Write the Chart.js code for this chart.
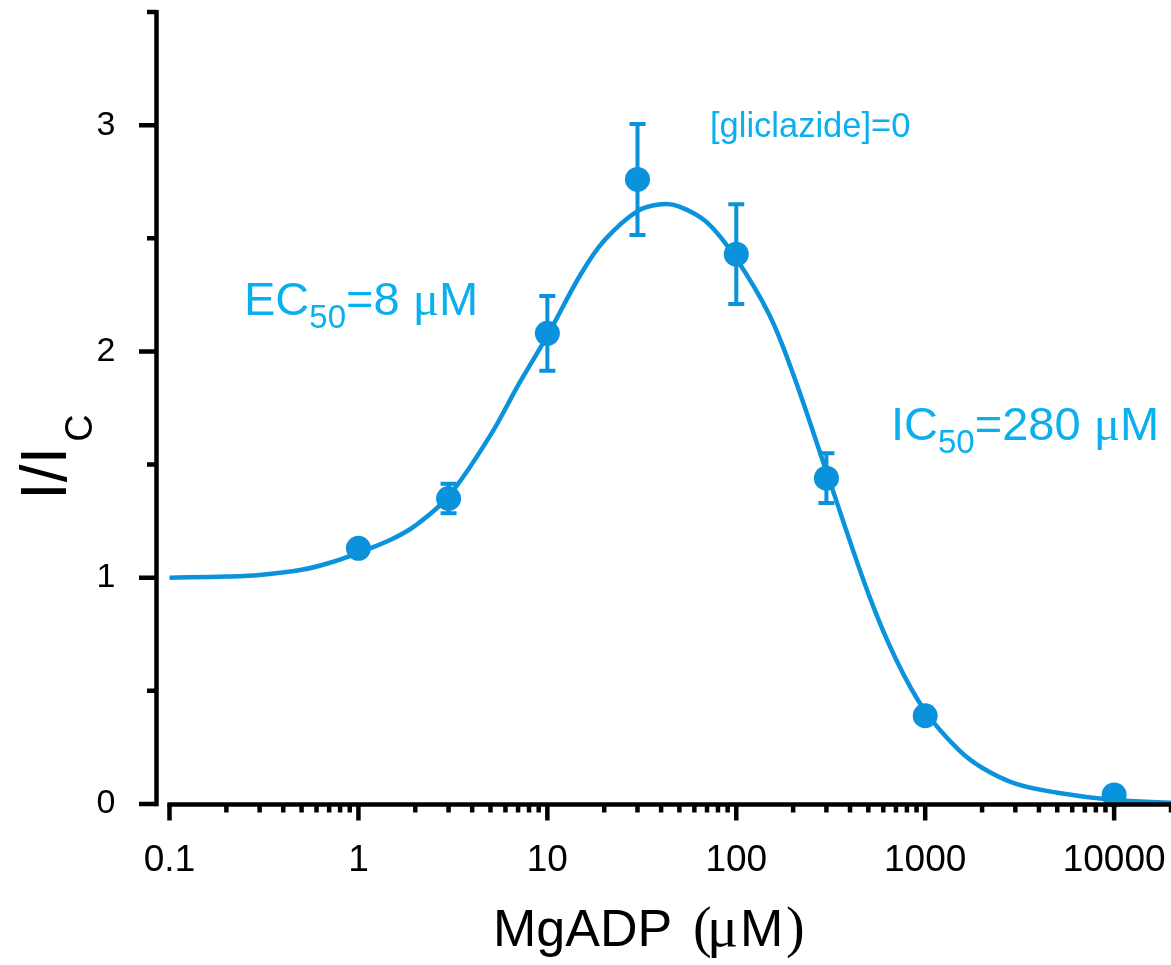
<!DOCTYPE html>
<html>
<head>
<meta charset="utf-8">
<script src="https://cdn.jsdelivr.net/npm/chart.js@4.4.1/dist/chart.umd.min.js"></script>
<style>
  html, body { margin: 0; padding: 0; background: #ffffff; }
  #wrap { width: 1171px; height: 965px; position: relative; }
</style>
</head>
<body>
<div id="wrap"><canvas id="c" width="1171" height="965"></canvas></div>
<script>
// MgADP concentrations (µM) and normalised current I/Ic (mean ± s.e.m.)
const mgadp      = [1, 3, 10, 30, 100, 300, 1000, 10000];
const current    = [1.13, 1.35, 2.08, 2.76, 2.43, 1.44, 0.39, 0.04];
const currentErr = [0.02, 0.065, 0.165, 0.245, 0.22, 0.11, 0.02, 0.01];

// Bell-shaped fit through the data
const fitX = [0.1, 0.2, 0.3, 0.5, 0.7, 1, 1.5, 2, 3, 5, 7, 10, 15, 20, 30, 40, 50, 70,
              100, 150, 200, 300, 500, 700, 1000, 1500, 2000, 3000, 5000, 10000, 20000];
const fitY = [1.00, 1.005, 1.012, 1.035, 1.065, 1.11, 1.17, 1.23, 1.36, 1.63, 1.85, 2.07, 2.34, 2.49, 2.62, 2.65, 2.64, 2.57,
              2.41, 2.16, 1.90, 1.47, 0.93, 0.64, 0.41, 0.24, 0.16, 0.09, 0.05, 0.018, 0.006];

// Axis ticks
const xTicks      = [0.1, 1, 10, 100, 1000, 10000];
const xTickLabels = ['0.1', '1', '10', '100', '1000', '10000'];
const yTicks      = [0, 1, 2, 3];
const yTickLabels = ['0', '1', '2', '3'];
const yMinorTicks = [0.5, 1.5, 2.5, 3.5];

const markColor = '#0A92DC';
const textColor = '#0AAFEE';
const SANS  = '"Liberation Sans", Arial, sans-serif';
const SERIF = '"Liberation Serif", "Times New Roman", serif';

// draws a run of text pieces, each {t, font, x, dy}
function drawPieces(ctx, x0, y0, pieces, color) {
  ctx.save();
  ctx.fillStyle = color;
  ctx.textBaseline = 'alphabetic';
  ctx.textAlign = 'left';
  let x = x0;
  for (const p of pieces) {
    ctx.font = p.font;
    const px = (p.x !== undefined) ? p.x : x;
    ctx.fillText(p.t, px, y0 + (p.dy || 0));
    x = px + ctx.measureText(p.t).width + (p.gap || 0);
  }
  ctx.restore();
}

const decorations = {
  id: 'decorations',
  beforeDatasetsDraw(chart) {
    // error bars
    const { ctx, scales: { x, y } } = chart;
    ctx.save();
    ctx.strokeStyle = markColor;
    ctx.lineWidth = 4;
    ctx.lineCap = 'butt';
    mgadp.forEach((d, i) => {
      const px = x.getPixelForValue(d);
      const top = y.getPixelForValue(current[i] + currentErr[i]);
      const bot = y.getPixelForValue(current[i] - currentErr[i]);
      ctx.beginPath();
      ctx.moveTo(px, top); ctx.lineTo(px, bot);
      ctx.moveTo(px - 8, top); ctx.lineTo(px + 8, top);
      ctx.moveTo(px - 8, bot); ctx.lineTo(px + 8, bot);
      ctx.stroke();
    });
    ctx.restore();
  },
  afterDraw(chart) {
    const { ctx, scales: { x, y }, chartArea } = chart;
    ctx.save();
    ctx.strokeStyle = '#000';
    ctx.lineWidth = 4.5;
    ctx.lineCap = 'butt';

    // y axis line, detached from the x axis
    const yAxisX = 156.5;
    const y0 = y.getPixelForValue(0);
    ctx.beginPath();
    ctx.moveTo(yAxisX, y.getPixelForValue(3.5) - 2);
    ctx.lineTo(yAxisX, y0 + 2.2);
    ctx.stroke();
    ctx.beginPath();
    yTicks.forEach(v => {
      const py = y.getPixelForValue(v);
      ctx.moveTo(yAxisX, py); ctx.lineTo(139, py);
    });
    yMinorTicks.forEach(v => {
      const py = y.getPixelForValue(v);
      ctx.moveTo(yAxisX, py); ctx.lineTo(147, py);
    });
    ctx.stroke();

    // x axis line with log ticks
    const xAxisY = y0 + 0.5;
    ctx.beginPath();
    ctx.moveTo(x.getPixelForValue(0.1) - 2.2, xAxisY);
    ctx.lineTo(chartArea.right, xAxisY);
    ctx.stroke();
    ctx.beginPath();
    xTicks.forEach(v => {
      const px = x.getPixelForValue(v);
      ctx.moveTo(px, xAxisY); ctx.lineTo(px, xAxisY + 16);
      for (let k = 2; k <= 9; k++) {
        const mv = v * k;
        if (mv > x.max) break;
        const mpx = x.getPixelForValue(mv);
        ctx.moveTo(mpx, xAxisY); ctx.lineTo(mpx, xAxisY + 8);
      }
    });
    ctx.stroke();
    ctx.restore();

    // axis titles
    drawPieces(ctx, 493, 946, [
      { t: 'MgADP', font: '52px ' + SANS },
      { t: '(', font: '56px ' + SERIF, x: 693 },
      { t: 'μ', font: '58px ' + SERIF, x: 707 },
      { t: 'M', font: '52px ' + SANS, x: 740 },
      { t: ')', font: '56px ' + SERIF, x: 786 }
    ], '#000');

    ctx.save();
    ctx.translate(66, 500);
    ctx.rotate(-Math.PI / 2);
    drawPieces(ctx, 0, 0, [
      { t: 'I/I', font: '64px ' + SANS, gap: 5 },
      { t: 'C', font: '38px ' + SANS, dy: 26 }
    ], '#000');
    ctx.restore();

    // annotations
    drawPieces(ctx, 710, 137, [
      { t: '[gliclazide]=0', font: '34.5px ' + SANS }
    ], textColor);
    drawPieces(ctx, 244, 315, [
      { t: 'EC', font: '47px ' + SANS },
      { t: '50', font: '33px ' + SANS, dy: 13 },
      { t: '=8 ', font: '47px ' + SANS },
      { t: 'μ', font: '49px ' + SERIF },
      { t: 'M', font: '47px ' + SANS }
    ], textColor);
    drawPieces(ctx, 891, 440, [
      { t: 'IC', font: '47px ' + SANS },
      { t: '50', font: '33px ' + SANS, dy: 13 },
      { t: '=280 ', font: '47px ' + SANS },
      { t: 'μ', font: '49px ' + SERIF },
      { t: 'M', font: '47px ' + SANS }
    ], textColor);
  }
};

new Chart(document.getElementById('c'), {
  type: 'scatter',
  data: {
    datasets: [
      {
        label: 'fit',
        data: fitX.map((v, i) => ({ x: v, y: fitY[i] })),
        showLine: true,
        borderColor: markColor,
        borderWidth: 4.5,
        pointRadius: 0,
        tension: 0.35,
        clip: false,
        order: 2
      },
      {
        label: 'I/Ic',
        data: mgadp.map((v, i) => ({ x: v, y: current[i] })),
        showLine: false,
        pointRadius: 12.5,
        pointBackgroundColor: markColor,
        pointBorderWidth: 0,
        clip: false,
        order: 1
      }
    ]
  },
  options: {
    responsive: false,
    animation: false,
    events: [],
    layout: { autoPadding: false, padding: { top: 12, left: 0, right: 0, bottom: 0 } },
    plugins: { legend: { display: false }, tooltip: { enabled: false } },
    scales: {
      x: {
        type: 'logarithmic',
        min: 0.1,
        max: 20000,
        grid: { display: false, drawTicks: false },
        border: { display: false },
        afterBuildTicks: s => { s.ticks = xTicks.map(v => ({ value: v })); },
        afterFit: s => { s.height = 161; s.paddingLeft = 0; s.paddingRight = 0; },
        ticks: {
          autoSkip: false,
          maxRotation: 0,
          padding: 35,
          color: '#000',
          font: { family: SANS, size: 37 },
          callback: (v) => { const i = xTicks.indexOf(v); return i >= 0 ? xTickLabels[i] : ''; }
        }
      },
      y: {
        min: 0,
        max: 3.5,
        grid: { display: false, drawTicks: false },
        border: { display: false },
        afterBuildTicks: s => { s.ticks = yTicks.map(v => ({ value: v })); },
        afterFit: s => { s.width = 169.5; s.paddingTop = 0; s.paddingBottom = 0; },
        ticks: {
          padding: 54,
          color: '#000',
          font: { family: SANS, size: 34 },
          callback: (v) => { const i = yTicks.indexOf(v); return i >= 0 ? yTickLabels[i] : ''; }
        }
      }
    }
  },
  plugins: [decorations]
});
</script>
</body>
</html>
